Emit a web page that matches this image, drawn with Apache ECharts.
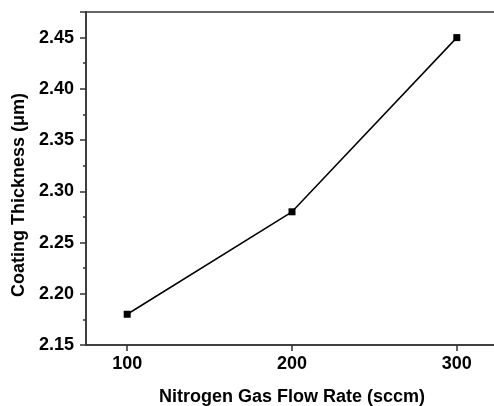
<!DOCTYPE html>
<html>
<head>
<meta charset="utf-8">
<script src="https://cdn.jsdelivr.net/npm/echarts@6/dist/echarts.min.js"></script>
<style>html,body{margin:0;padding:0;background:#fff;}#c{width:494px;height:406px;}</style>
</head>
<body>
<div id="c"></div>
<script>
var flowRates = [100, 200, 300];
var thickness = [2.18, 2.28, 2.45];
var xTicks = [100, 200, 300];
var yTickLabels = ['2.15','2.20','2.25','2.30','2.35','2.40','2.45'];

var chart = echarts.init(document.getElementById('c'), null, {renderer:'canvas'});
var font = 'Liberation Sans, Arial, sans-serif';
var axisColor = '#333';
chart.setOption({
  animation: false,
  backgroundColor: '#fff',
  grid: {left: 86, top: 12, width: 412, height: 333, outerBoundsMode: 'none', containLabel: false,
    show: true, borderColor: axisColor, borderWidth: 1.5, backgroundColor: 'transparent'},
  xAxis: {
    type: 'value', min: 75, max: 325, interval: 25,
    name: 'Nitrogen Gas Flow Rate (sccm)', nameLocation: 'middle', nameGap: 43,
    nameTextStyle: {fontFamily: font, fontWeight: 'bold', fontSize: 18, color: '#000'},
    axisLine: {show: true, onZero: false, lineStyle: {color: axisColor, width: 1.5}},
    axisTick: {show: true, inside: false, length: 6, lineStyle: {color: axisColor, width: 1.5},
      customValues: xTicks},
    axisLabel: {fontFamily: font, fontWeight: 'bold', fontSize: 18, color: '#000', margin: 10,
      customValues: xTicks},
    splitLine: {show: false}
  },
  yAxis: {
    type: 'value', min: 2.15, max: 2.475, interval: 0.05,
    name: 'Coating Thickness (\u03bcm)', nameLocation: 'middle', nameGap: 58,
    nameTextStyle: {fontFamily: font, fontWeight: 'bold', fontSize: 18, color: '#000', padding: [0, 33, 0, 0]},
    axisLine: {show: true, onZero: false, lineStyle: {color: axisColor, width: 1.5}},
    axisTick: {show: true, inside: false, length: 6, lineStyle: {color: axisColor, width: 1.5}},
    minorTick: {show: true, splitNumber: 2, length: 3, lineStyle: {color: axisColor, width: 1.5}},
    axisLabel: {fontFamily: font, fontWeight: 'bold', fontSize: 18, color: '#000', margin: 12,
      formatter: function(v){ var s = v.toFixed(2); return yTickLabels.indexOf(s) >= 0 ? s : ''; }},
    splitLine: {show: false}
  },
  series: [{
    type: 'line',
    data: flowRates.map(function(x,i){return [x, thickness[i]];}),
    symbol: 'rect', symbolSize: 7,
    lineStyle: {color: '#000', width: 1.5},
    itemStyle: {color: '#000'}
  }]
});
</script>
</body>
</html>
